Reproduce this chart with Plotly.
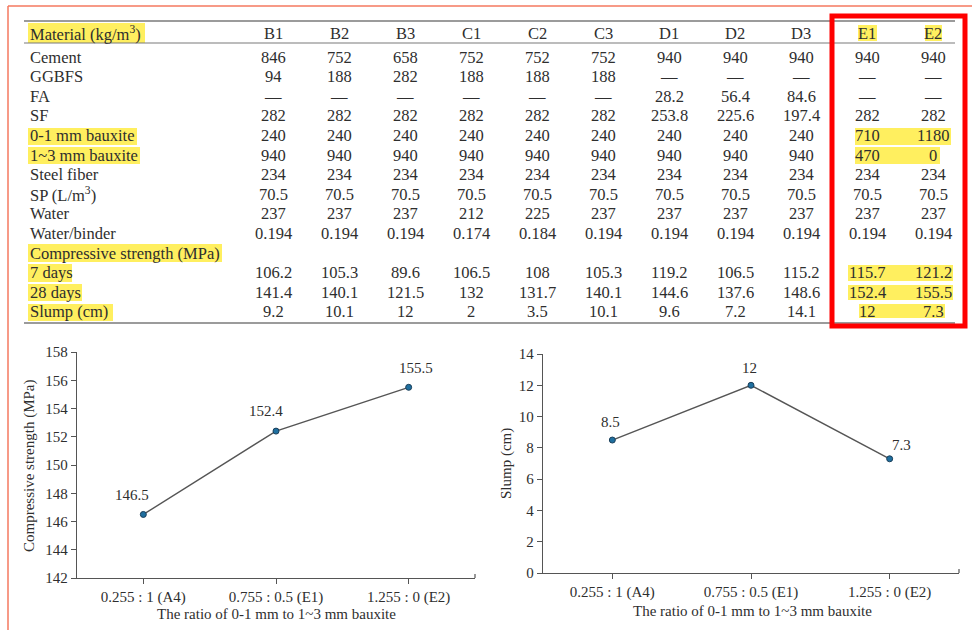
import plotly.graph_objects as go

W, H = 972, 630
FONT = "Liberation Serif, DejaVu Serif, serif"
TXT = "#2e2e2e"
YEL = "#FFEF5F"

# ---------------- table data ----------------
columns = ["B1", "B2", "B3", "C1", "C2", "C3", "D1", "D2", "D3", "E1", "E2"]
header_label = "Material (kg/m<sup>3</sup>)"
row_labels = ["Cement", "GGBFS", "FA", "SF", "0-1 mm bauxite", "1~3 mm bauxite",
              "Steel fiber", "SP (L/m<sup>3</sup>)", "Water", "Water/binder",
              "Compressive strength (MPa)", "7 days", "28 days", "Slump (cm)"]
cement = ["846", "752", "658", "752", "752", "752", "940", "940", "940", "940", "940"]
ggbfs = ["94", "188", "282", "188", "188", "188", "—", "—", "—", "—", "—"]
fa = ["—", "—", "—", "—", "—", "—", "28.2", "56.4", "84.6", "—", "—"]
sf = ["282", "282", "282", "282", "282", "282", "253.8", "225.6", "197.4", "282", "282"]
bauxite_01 = ["240", "240", "240", "240", "240", "240", "240", "240", "240", "710", "1180"]
bauxite_13 = ["940", "940", "940", "940", "940", "940", "940", "940", "940", "470", "0"]
steel_fiber = ["234"] * 11
sp = ["70.5"] * 11
water = ["237", "237", "237", "212", "225", "237", "237", "237", "237", "237", "237"]
water_binder = ["0.194", "0.194", "0.194", "0.174", "0.184", "0.194", "0.194", "0.194",
                "0.194", "0.194", "0.194"]
comp_header = [""] * 11
days7 = ["106.2", "105.3", "89.6", "106.5", "108", "105.3", "119.2", "106.5", "115.2",
         "115.7", "121.2"]
days28 = ["141.4", "140.1", "121.5", "132", "131.7", "140.1", "144.6", "137.6", "148.6",
          "152.4", "155.5"]
slump_row = ["9.2", "10.1", "12", "2", "3.5", "10.1", "9.6", "7.2", "14.1", "12", "7.3"]
table_rows = [cement, ggbfs, fa, sf, bauxite_01, bauxite_13, steel_fiber, sp, water,
              water_binder, comp_header, days7, days28, slump_row]

# ---------------- chart data ----------------
ratio_labels = ["0.255 : 1 (A4)", "0.755 : 0.5 (E1)", "1.255 : 0 (E2)"]
strength = [146.5, 152.4, 155.5]
slump = [8.5, 12, 7.3]


def px(x):
    return x / W


def py(y):
    return 1 - y / H


# ---------------- layout geometry (pixels) ----------------
col_x = [273 + 66 * i for i in range(11)]
header_y = 33
row_y = [57 + 19.6 * i for i in range(14)]
label_x = 28

fig = go.Figure()

marker_style = dict(size=6, color="#1f6f9f", line=dict(color="#1b3f5a", width=1))
fig.add_trace(go.Scatter(x=ratio_labels, y=strength, mode="lines+markers",
                         line=dict(color="#555555", width=1.4), marker=marker_style,
                         xaxis="x", yaxis="y", showlegend=False, hoverinfo="x+y"))
fig.add_trace(go.Scatter(x=ratio_labels, y=slump, mode="lines+markers",
                         line=dict(color="#555555", width=1.4), marker=marker_style,
                         xaxis="x2", yaxis="y2", showlegend=False, hoverinfo="x+y"))

axis_common = dict(showline=True, linecolor="#555555", linewidth=1.3, ticks="outside",
                   tickcolor="#555555", ticklen=5, tickwidth=1.2, showgrid=False,
                   zeroline=False, automargin=False,
                   tickfont=dict(family=FONT, size=15, color=TXT))

fig.update_layout(
    width=W, height=H, margin=dict(l=0, r=0, t=0, b=0, pad=0),
    paper_bgcolor="white", plot_bgcolor="rgba(0,0,0,0)",
    xaxis=dict(domain=[px(77), px(475)], anchor="y", type="category",
               range=[-0.5, 2.5], **axis_common),
    yaxis=dict(domain=[py(578), py(352)], anchor="x", range=[142, 158], dtick=2,
               **axis_common),
    xaxis2=dict(domain=[px(543), px(959)], anchor="y2", type="category",
                range=[-0.5, 2.5], **axis_common),
    yaxis2=dict(domain=[py(573), py(354)], anchor="x2", range=[0, 14], dtick=2,
                **axis_common),
)

annotations = []
shapes = []


def note(x, y, text, xanchor="center", yanchor="middle", xref="paper", yref="paper",
         font=None, **kw):
    annotations.append(dict(x=x, y=y, xref=xref, yref=yref, text=text, showarrow=False,
                            xanchor=xanchor, yanchor=yanchor, font=font, **kw))


label_font = dict(family=FONT, size=15, color=TXT)
# data labels
label_shift_left = [(-11, 19), (-10, 20), (7, 19)]
for i, (cat, v) in enumerate(zip(ratio_labels, strength)):
    note(cat, v, f"{v:g}", xref="x", yref="y", font=label_font,
         xshift=label_shift_left[i][0], yshift=label_shift_left[i][1])
label_shift_right = [(-2, 18), (-2, 17), (12, 14)]
for i, (cat, v) in enumerate(zip(ratio_labels, slump)):
    note(cat, v, f"{v:g}", xref="x2", yref="y2", font=label_font,
         xshift=label_shift_right[i][0], yshift=label_shift_right[i][1])

# axis titles
note(px(29), py(466), "Compressive strength (MPa)", textangle=-90, font=label_font)
note(px(276), py(614), "The ratio of 0-1 mm to 1~3 mm bauxite", font=label_font)
note(px(506), py(464), "Slump (cm)", textangle=-90, font=label_font)
note(px(752), py(611), "The ratio of 0-1 mm to 1~3 mm bauxite", font=label_font)

# table text
tfont = dict(family=FONT, size=16.5, color=TXT)
note(px(label_x), py(header_y), header_label, xanchor="left", font=tfont)
for c, cx in zip(columns, col_x):
    note(px(cx), py(header_y), c, font=tfont)
for lab, vals, ry in zip(row_labels, table_rows, row_y):
    note(px(label_x), py(ry), lab, xanchor="left", font=tfont)
    for v, cx in zip(vals, col_x):
        if v:
            note(px(cx), py(ry), v, font=tfont)


def hl(x0, x1, y0, y1):
    shapes.append(dict(type="rect", xref="paper", yref="paper", x0=px(x0), x1=px(x1),
                       y0=py(y1), y1=py(y0), fillcolor=YEL, line=dict(width=0),
                       layer="below"))


# highlights (label column)
hl(28, 145, 23, 43)
hl(28, 137, 128, 145)
hl(28, 140, 147, 164)
hl(28, 222, 244, 262)
hl(28, 72, 264, 282)
hl(28, 82, 284, 301)
hl(28, 113, 304, 321)
# highlights (E columns)
hl(858, 877, 25, 41)
hl(925, 942, 25, 41)
hl(855, 951, 128, 145)
hl(855, 940, 147, 164)
hl(848, 953, 265, 281)
hl(848, 953, 285, 300)
hl(859, 945, 304, 318)


def hline(x0, x1, y, color="#7a7a7a", w=1.6):
    shapes.append(dict(type="line", xref="paper", yref="paper", x0=px(x0), x1=px(x1),
                       y0=py(y), y1=py(y), line=dict(color=color, width=w)))


hline(24, 955, 21)
hline(24, 955, 43, w=1.2)
hline(24, 955, 323)

# small end ticks at right end of x axes
for xa, ya, yv in (("x", "y", 142), ("x2", "y2", 0)):
    shapes.append(dict(type="line", xref=f"{xa} domain", yref=ya, x0=1, x1=1,
                       y0=yv, y1=yv, line=dict(width=0)))
shapes.append(dict(type="line", xref="paper", yref="paper", x0=px(475), x1=px(475),
                   y0=py(578), y1=py(574), line=dict(color="#555555", width=1.2)))
shapes.append(dict(type="line", xref="paper", yref="paper", x0=px(959), x1=px(959),
                   y0=py(573), y1=py(569), line=dict(color="#555555", width=1.2)))

# outer frame (salmon)
shapes.append(dict(type="line", xref="paper", yref="paper", x0=px(8), x1=px(972),
                   y0=py(6), y1=py(6), line=dict(color="#F4785F", width=1.5)))
shapes.append(dict(type="line", xref="paper", yref="paper", x0=px(8), x1=px(8),
                   y0=py(6), y1=py(630), line=dict(color="#F4785F", width=1.5)))

# red box around E1/E2
shapes.append(dict(type="rect", xref="paper", yref="paper", x0=px(832), x1=px(965),
                   y0=py(326), y1=py(16), line=dict(color="#FF0000", width=5),
                   fillcolor="rgba(0,0,0,0)", layer="above"))

fig.update_layout(annotations=annotations, shapes=shapes)
fig.write_html("out.html", config={"displayModeBar": False},
               post_script="document.body.style.margin='0';")
